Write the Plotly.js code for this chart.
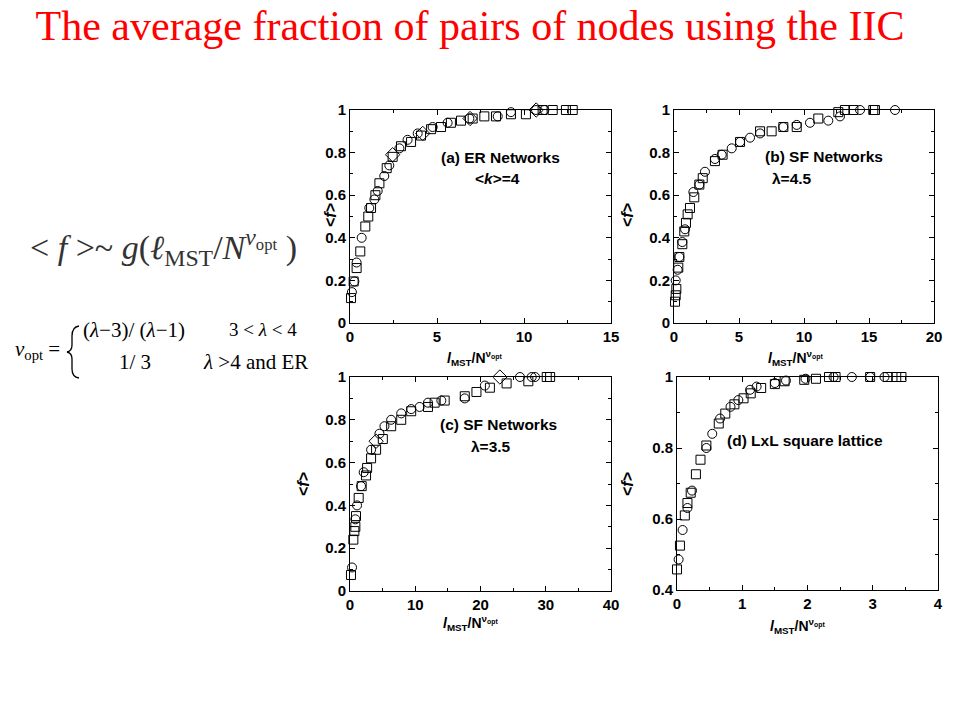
<!DOCTYPE html>
<html><head><meta charset="utf-8">
<script src="https://cdn.plot.ly/plotly-3.0.1.min.js"></script>
<style>html,body{margin:0;padding:0;background:#fff;}#chart{width:960px;height:720px;}</style>
</head><body><div id="chart"></div>
<script>
// Panel (a) ER Networks <k>=4
const aCircX = [0.11,0.25,0.38,0.67,1.11,1.40,1.59,1.97,2.26,2.84,3.31,3.89,4.75,5.61,6.86,8.49,9.25,10.69,11.17];
const aCircY = [0.145,0.195,0.284,0.40,0.54,0.58,0.62,0.69,0.74,0.82,0.86,0.89,0.92,0.94,0.96,0.97,0.99,1.0,1.0];
const aSqX = [0.06,0.21,0.38,0.59,0.88,1.05,1.21,1.46,1.69,2.11,2.45,2.93,3.51,4.08,4.66,5.23,5.80,6.38,7.05,7.72,8.39,9.25,10.11,11.07,11.65,12.41,12.80];
const aSqY = [0.117,0.195,0.258,0.336,0.453,0.50,0.54,0.60,0.656,0.727,0.78,0.83,0.85,0.88,0.91,0.92,0.94,0.95,0.96,0.97,0.97,0.98,0.98,1.0,1.0,1.0,1.0];
const aDiaX = [2.45,4.18,6.9,10.7];
const aDiaY = [0.79,0.89,0.96,1.0];
// Panel (b) SF Networks lambda=4.5
const bSqX = [0.08,0.13,0.18,0.33,0.41,0.64,0.79,0.92,1.05,1.23,1.56,1.95,2.21,3.15,3.74,5.08,6.62,7.51,8.41,9.44,11.10,12.64,13.15,13.8,15.33,15.46];
const bSqY = [0.10,0.13,0.16,0.26,0.31,0.37,0.43,0.47,0.51,0.54,0.59,0.65,0.68,0.76,0.79,0.85,0.90,0.90,0.92,0.92,0.96,0.99,1.0,1.0,1.0,1.0];
const bCircX = [0.13,0.28,0.41,0.64,0.85,1.49,1.95,2.38,3.15,3.67,4.44,5.08,5.85,6.62,8.41,9.44,10.46,11.87,12.77,14.31,17.0];
const bCircY = [0.20,0.25,0.31,0.38,0.44,0.615,0.65,0.71,0.77,0.79,0.82,0.85,0.87,0.89,0.92,0.93,0.94,0.95,0.97,1.0,1.0];
// Panel (c) SF Networks lambda=3.5
const cCircX = [0.31,0.82,1.08,1.69,2.10,3.23,4.51,5.28,6.31,7.85,9.38,10.67,11.95,14.0,17.59,20.67,26.05,27.85,28.36];
const cCircY = [0.11,0.335,0.40,0.49,0.555,0.66,0.735,0.77,0.80,0.83,0.85,0.86,0.88,0.89,0.90,0.96,1.0,1.0,1.0];
const cSqX = [0.15,0.51,0.67,0.82,0.92,1.33,1.79,2.46,2.62,3.23,4.0,5.03,6.31,7.85,9.38,11.95,12.97,14.51,17.59,19.38,21.44,24.0,27.33,30.15,30.67];
const cSqY = [0.075,0.24,0.28,0.30,0.35,0.435,0.49,0.54,0.575,0.62,0.66,0.71,0.77,0.80,0.84,0.86,0.88,0.89,0.91,0.93,0.95,0.97,0.98,1.0,1.0];
const cDiaX = [4.0,22.97];
const cDiaY = [0.70,1.0];
// Panel (d) LxL square lattice
const dSqX = [0.0,0.045,0.12,0.16,0.21,0.29,0.36,0.45,0.64,0.74,0.88,1.02,1.13,1.29,1.50,1.65,1.95,2.13,2.33,2.43,2.96,3.23,3.36,3.44];
const dSqY = [0.458,0.525,0.61,0.645,0.674,0.726,0.767,0.807,0.869,0.897,0.923,0.94,0.954,0.969,0.98,0.988,0.992,0.995,1.0,1.0,1.0,1.0,1.0,1.0];
const dCircX = [0.025,0.086,0.16,0.23,0.45,0.54,0.66,0.82,0.94,1.12,1.22,1.50,1.67,1.97,2.40,2.68,2.96,3.18];
const dCircY = [0.486,0.569,0.631,0.68,0.80,0.84,0.883,0.916,0.935,0.964,0.973,0.983,0.99,0.995,1.0,1.0,1.0,1.0];

const xRanges = [[0,15],[0,20],[0,40],[0,4]];
const yRanges = [[0,1],[0,1],[0,1],[0.4,1]];
const xDticks = [5,5,10,1];
const yDticks = [0.2,0.2,0.2,0.2];
const panelLabels = ['(a) ER Networks','(b) SF Networks','(c) SF Networks','(d) LxL square lattice'];
const panelSub = ['&lt;<i>k</i>&gt;=4','λ=4.5','λ=3.5',''];

const W = 960, H = 720;
// plot boxes in pixels: [x0, x1, yTop, yBottom]
const boxes = [[350,611,110,323],[674,934,110,323],[350,611,377,591],[677,938,377,590]];

function mk(x, y, sym, xa, ya) {
  return {x: x, y: y, type: 'scatter', mode: 'markers', xaxis: xa, yaxis: ya, cliponaxis: false,
    marker: {symbol: sym, size: sym === 'diamond-open' ? 11 : 9, color: '#000', line: {color: '#000', width: 1}},
    showlegend: false, hoverinfo: 'skip'};
}
const traces = [
  mk(aCircX, aCircY, 'circle-open', 'x', 'y'),
  mk(aSqX, aSqY, 'square-open', 'x', 'y'),
  mk(aDiaX, aDiaY, 'diamond-open', 'x', 'y'),
  mk(bCircX, bCircY, 'circle-open', 'x2', 'y2'),
  mk(bSqX, bSqY, 'square-open', 'x2', 'y2'),
  mk(cCircX, cCircY, 'circle-open', 'x3', 'y3'),
  mk(cSqX, cSqY, 'square-open', 'x3', 'y3'),
  mk(cDiaX, cDiaY, 'diamond-open', 'x3', 'y3'),
  mk(dCircX, dCircY, 'circle-open', 'x4', 'y4'),
  mk(dSqX, dSqY, 'square-open', 'x4', 'y4')
];

const sans = 'Liberation Sans, Arial, sans-serif';
const serif = 'Liberation Serif, Times New Roman, serif';
const tickFont = {family: sans, size: 15, color: '#000', weight: 'bold'};
const layout = {
  width: W, height: H, margin: {l: 0, r: 0, t: 0, b: 0},
  paper_bgcolor: '#fff', plot_bgcolor: '#fff', showlegend: false,
  title: {text: 'The average fraction of pairs of nodes using the IIC',
    font: {family: serif, size: 42, color: '#ff0000'},
    x: 470 / W, xanchor: 'center', y: 1 - 25 / H, yanchor: 'middle'},
  annotations: [], shapes: []
};
for (let i = 0; i < 4; i++) {
  const b = boxes[i];
  const sfx = i === 0 ? '' : String(i + 1);
  layout['xaxis' + sfx] = {
    domain: [b[0] / W, b[1] / W], range: xRanges[i], anchor: 'y' + sfx,
    dtick: xDticks[i], tick0: 0, ticks: 'inside', ticklen: 5, tickcolor: '#000',
    minor: {ticks: 'inside', ticklen: 3, dtick: xDticks[i] / 2, tickcolor: '#000'},
    showline: true, linecolor: '#000', linewidth: 1, mirror: 'allticks',
    showgrid: false, zeroline: false, tickfont: tickFont, fixedrange: true
  };
  layout['yaxis' + sfx] = {
    domain: [1 - b[3] / H, 1 - b[2] / H], range: yRanges[i], anchor: 'x' + sfx,
    dtick: yDticks[i], tick0: 0, ticks: 'inside', ticklen: 5, tickcolor: '#000',
    minor: {ticks: 'inside', ticklen: 3, dtick: 0.1, tickcolor: '#000'},
    showline: true, linecolor: '#000', linewidth: 1, mirror: 'allticks',
    showgrid: false, zeroline: false, tickfont: tickFont, fixedrange: true
  };
}
function ann(px, py, text, opts) {
  return Object.assign({xref: 'paper', yref: 'paper', x: px / W, y: 1 - py / H, text: text,
    showarrow: false, xanchor: 'center', yanchor: 'middle',
    font: {family: sans, size: 15.5, color: '#000', weight: 'bold'}}, opts || {});
}
const labelPos = [[500,157],[824,156],[498,424],[805,440]];
const subPos = [[497,178],[792,178],[491,446],[0,0]];
const ytitlePos = [[330,215],[627,215],[303,484],[627,484]];
const xtitlePos = [[474,358],[795,358],[470,623],[797,626]];
const xTitle = '<b><i>l</i><sub>MST</sub>/N<sup>ν<sub>opt</sub></sup></b>';
for (let i = 0; i < 4; i++) {
  layout.annotations.push(ann(labelPos[i][0], labelPos[i][1], panelLabels[i]));
  if (panelSub[i]) layout.annotations.push(ann(subPos[i][0], subPos[i][1], panelSub[i]));
  layout.annotations.push(ann(ytitlePos[i][0], ytitlePos[i][1], '&lt;<i>f</i>&gt;', {textangle: -90, font: {family: sans, size: 16, color: '#000', weight: 'bold'}}));
  layout.annotations.push(ann(xtitlePos[i][0], xtitlePos[i][1], xTitle, {font: {family: sans, size: 14, color: '#000', weight: 'bold'}}));
}
// formula 1
layout.annotations.push(ann(163, 247, '&lt; <i>f</i> &gt;~ <i>g</i>(<i>ℓ</i><sub>MST</sub>/<i>N</i><sup><i>ν</i><sub>opt</sub></sup> )',
  {font: {family: serif, size: 34, color: '#333'}}));
// formula 2
const f2 = {family: serif, size: 21, color: '#000'};
layout.annotations.push(ann(37, 350, '<i>ν</i><sub>opt</sub> =', {font: f2}));
layout.annotations.push(ann(134, 330, '(<i>λ</i>−3)/ (<i>λ</i>−1)', {font: f2}));
layout.annotations.push(ann(263, 330, '3 &lt; <i>λ</i> &lt; 4', {font: {family: serif, size: 19, color: '#000'}}));
layout.annotations.push(ann(135, 362, '1/ 3', {font: f2}));
layout.annotations.push(ann(255, 362, '<i>λ</i> &gt;4 and ER', {font: f2}));
// curly brace
function P(x, y) { return (x / W).toFixed(5) + ',' + (1 - y / H).toFixed(5); }
const bracePath = 'M' + P(79, 326) + ' Q' + P(72, 327) + ' ' + P(72, 336) + ' L' + P(72, 345) +
  ' Q' + P(72, 351) + ' ' + P(67, 352) + ' Q' + P(72, 353) + ' ' + P(72, 359) + ' L' + P(72, 369) +
  ' Q' + P(72, 377) + ' ' + P(79, 378);
layout.shapes.push({type: 'path', xref: 'paper', yref: 'paper', path: bracePath, line: {color: '#000', width: 1.3}});

Plotly.newPlot('chart', traces, layout, {displayModeBar: false, staticPlot: true});
</script></body></html>
